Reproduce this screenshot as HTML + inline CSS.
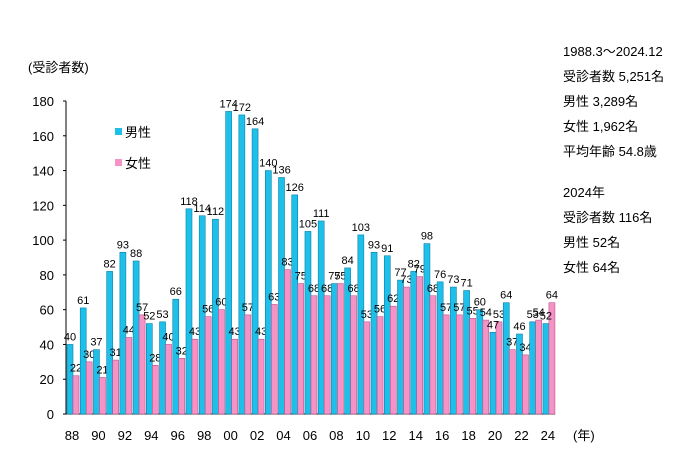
<!DOCTYPE html>
<html><head><meta charset="utf-8"><style>
body{margin:0;background:#fff;font-family:"Liberation Sans","Noto Sans CJK JP",sans-serif}
svg text{font-family:"Liberation Sans","Noto Sans CJK JP",sans-serif}
</style></head><body>
<svg id="c" width="700" height="467" xmlns="http://www.w3.org/2000/svg">
<text x="28" y="72" font-size="13">(受診者数)</text>
<g font-size="13">
<text x="563" y="56">1988.3～2024.12</text>
<text x="563" y="81">受診者数 5,251名</text>
<text x="563" y="106">男性 3,289名</text>
<text x="563" y="131">女性 1,962名</text>
<text x="563" y="156">平均年齢 54.8歳</text>
<text x="563" y="197">2024年</text>
<text x="563" y="222">受診者数 116名</text>
<text x="563" y="247">男性 52名</text>
<text x="563" y="272">女性 64名</text>
</g>
<text x="573" y="440" font-size="13">(年)</text>
<g>
<rect x="115" y="128" width="7" height="7" fill="#1ec0ea"/><text x="125" y="137" font-size="13">男性</text>
<rect x="115" y="159" width="7" height="7" fill="#f593c6"/><text x="125" y="168" font-size="13">女性</text>
</g>
<g id="axes"></g><g id="bars"></g>
</svg>
<script>
const years=["88","89","90","91","92","93","94","95","96","97","98","99","00","01","02","03","04","05","06","07","08","09","10","11","12","13","14","15","16","17","18","19","20","21","22","23","24"];
const male=[40,61,37,82,93,88,52,53,66,118,114,112,174,172,164,140,136,126,105,111,75,84,103,93,91,77,82,98,76,73,71,60,47,64,46,53,52];
const female=[22,30,21,31,44,57,28,40,32,43,56,60,43,57,43,63,83,75,68,68,75,68,53,56,62,73,79,68,57,57,55,54,53,37,34,54,64];
const yTicks=[0,20,40,60,80,100,120,140,160,180];
const NS="http://www.w3.org/2000/svg";
const x0=66,step=13.22,y0=414,ymaxPx=101,ymax=180;
const yS=v=>y0-(y0-ymaxPx)*v/ymax;
const xS=i=>x0+1+i*step;
function mk(t,a,p){const e=document.createElementNS(NS,t);for(const k in a)e.setAttribute(k,a[k]);p.appendChild(e);return e;}
const ax=document.getElementById('axes'),bg=document.getElementById('bars');
const yl=mk('line',{x1:x0,y1:yS(180),x2:x0,y2:y0,stroke:'#000'},ax);


const xl=mk('line',{x1:x0,y1:y0,x2:x0+37*step,y2:y0,stroke:'#000'},ax);


yTicks.forEach(v=>{
 mk('line',{x1:x0-3,y1:yS(v),x2:x0,y2:yS(v),stroke:'#000'},ax);
 const t=mk('text',{x:54,y:yS(v)+5,'font-size':13,'text-anchor':'end'},ax);t.textContent=v;
 
 
});
years.forEach((y,i)=>{
 if(i%2===0){const t=mk('text',{x:xS(i)+5,y:440,'font-size':13,'text-anchor':'middle'},ax);t.textContent=y;
 
 }
 const bm=mk('rect',{x:xS(i),y:yS(male[i]),width:6,height:y0-yS(male[i]),fill:'#1ec0ea',stroke:'#0a7fa8','stroke-width':0.6},bg);
 
 
 const bf=mk('rect',{x:xS(i)+6,y:yS(female[i]),width:6,height:y0-yS(female[i]),fill:'#f593c6',stroke:'#c0508a','stroke-width':0.6},bg);
 
 
 const lm=mk('text',{x:xS(i)+3,y:yS(male[i])-4,'font-size':11,'text-anchor':'middle'},bg);lm.textContent=male[i];
 
 
 const lf=mk('text',{x:xS(i)+9,y:yS(female[i])-4,'font-size':11,'text-anchor':'middle'},bg);lf.textContent=female[i];
 
 
});
</script>
</body></html>
